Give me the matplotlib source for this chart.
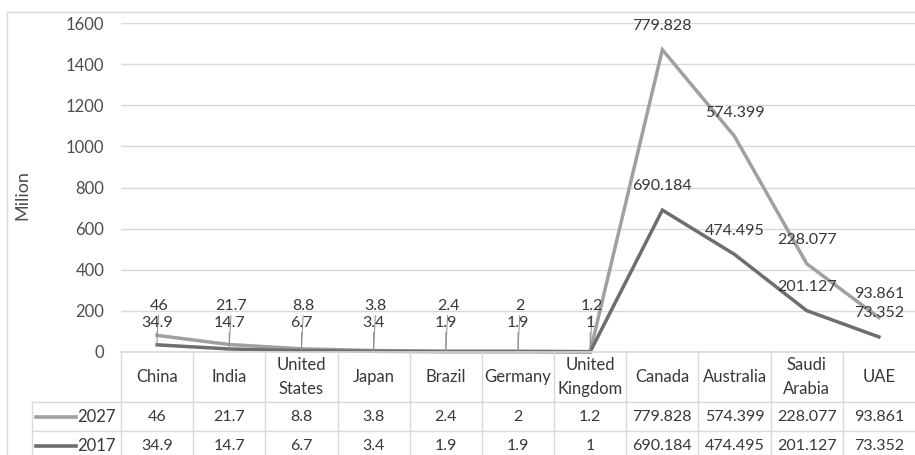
import numpy as np
from matplotlib import pyplot as plt
from matplotlib.lines import Line2D

plt.rcParams['font.family'] = ['Lato', 'DejaVu Sans']

countries = ["China", "India", "United\nStates", "Japan", "Brazil", "Germany",
             "United\nKingdom", "Canada", "Australia", "Saudi\nArabia", "UAE"]
v2027 = [46, 21.7, 8.8, 3.8, 2.4, 2, 1.2, 779.828, 574.399, 228.077, 93.861]
v2017 = [34.9, 14.7, 6.7, 3.4, 1.9, 1.9, 1, 690.184, 474.495, 201.127, 73.352]
yticks = [0, 200, 400, 600, 800, 1000, 1200, 1400, 1600]

c27 = "#a0a0a0"
c17 = "#6e6e6e"
grid_c = "#d9d9d9"
txt_c = "#383838"
tick_c = "#4d4d4d"
fs = 11.5

W, H = 915, 455
fig = plt.figure(figsize=(W / 100, H / 100), dpi=100)

# chart border
fig.add_artist(Line2D([7 / W, 7 / W], [0, 1 - 12 / H], color=grid_c, lw=1))
fig.add_artist(Line2D([7 / W, 1], [1 - 12 / H, 1 - 12 / H], color=grid_c, lw=1))

ax = fig.add_axes([121 / W, 1 - 352 / H, 1 - 121 / W, (352 - 23) / H])
x = np.arange(len(countries))
s17 = np.array(v2017)
s27 = s17 + np.array(v2027)   # stacked lines

ax.set_xlim(-0.5, len(countries) - 0.5)
ax.set_ylim(0, 1600)
ax.set_yticks(yticks)
ax.set_xticks([])
for s in ax.spines.values():
    s.set_visible(False)
ax.yaxis.grid(True, color=grid_c, lw=1)
ax.set_axisbelow(True)
ax.tick_params(axis="y", length=0, pad=12, labelsize=12, labelcolor=tick_c)
fig.text(22 / W, 1 - 195 / H, "Milion", rotation=90, ha="center", va="center",
         fontsize=13, color=tick_c)

ax.plot(x, s27, color=c27, lw=2.5, solid_joinstyle="miter", clip_on=False)
ax.plot(x, s17, color=c17, lw=2.5, solid_joinstyle="miter", clip_on=False)

n_small = 7
for i in range(len(countries)):
    if i < n_small:
        ax.annotate("%g" % v2027[i], xy=(x[i], s27[i]), xytext=(x[i] + 0.03, 225),
                    textcoords="data", ha="center", va="center", fontsize=fs,
                    color=txt_c, arrowprops=dict(arrowstyle="-", color="#8c8c8c", lw=0.7,
                                                 shrinkA=0, shrinkB=0))
        ax.annotate("%g" % v2017[i], xy=(x[i], s17[i]), xytext=(x[i], 143),
                    textcoords="data", ha="center", va="center", fontsize=fs,
                    color=txt_c, arrowprops=dict(arrowstyle="-", color="#8c8c8c", lw=0.7,
                                                 shrinkA=0, shrinkB=0))
    else:
        ax.annotate("%g" % v2027[i], xy=(x[i], s27[i]), xytext=(0, 17),
                    textcoords="offset points", ha="center", va="center",
                    fontsize=fs, color=txt_c)
        ax.annotate("%g" % v2017[i], xy=(x[i], s17[i]), xytext=(0, 17),
                    textcoords="offset points", ha="center", va="center",
                    fontsize=fs, color=txt_c)

# data table
tab = fig.add_axes([121 / W, 0, 1 - 121 / W, 103 / H])
tab.set_xlim(-0.5, len(countries) - 0.5)
tab.set_ylim(103, 0)
tab.axis("off")
colw = (W - 121) / len(countries)
left_x = -0.5 - (121 - 32) / colw
tab.plot([-0.5, len(countries) - 0.5], [0, 0], color=grid_c, lw=1.2, clip_on=False)
for y in [50, 79]:
    tab.plot([left_x, len(countries) - 0.5], [y, y], color=grid_c, lw=1, clip_on=False)
for k in range(len(countries)):
    tab.plot([k - 0.5, k - 0.5], [0, 110], color=grid_c, lw=1, clip_on=False)
tab.plot([left_x, left_x], [50, 110], color=grid_c, lw=1, clip_on=False)

for i, name in enumerate(countries):
    tab.text(i, 25, name, ha="center", va="center", fontsize=12, color=txt_c,
             linespacing=1.55)
    tab.text(i, 65, "%g" % v2027[i], ha="center", va="center", fontsize=fs, color=txt_c)
    tab.text(i, 94, "%g" % v2017[i], ha="center", va="center", fontsize=fs, color=txt_c)

leg_x0 = left_x + 4 / colw
leg_x1 = left_x + 44 / colw
for y, lab, c in [(65, "2027", c27), (94, "2017", c17)]:
    tab.plot([leg_x0, leg_x1], [y, y], color=c, lw=2.6, clip_on=False)
    tab.text(-0.5 - 5 / colw, y, lab, ha="right", va="center", fontsize=12, color=txt_c)

fig.savefig("out.png", dpi=100)
